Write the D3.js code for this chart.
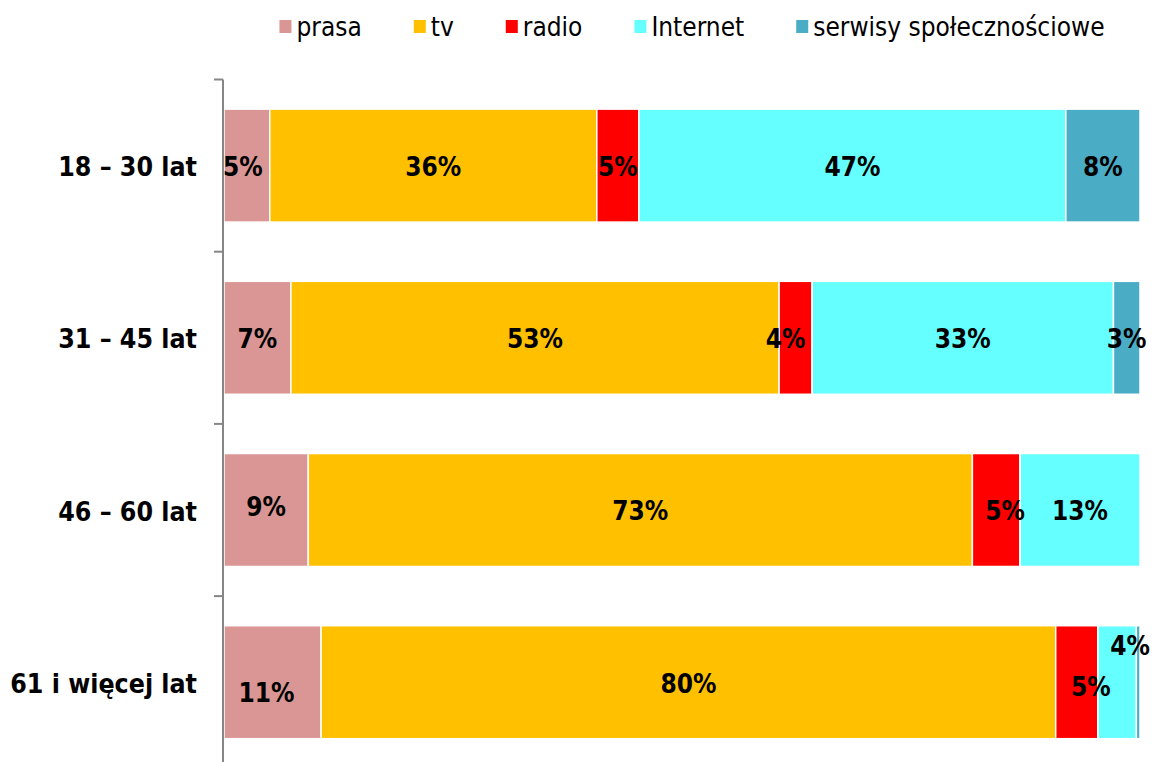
<!DOCTYPE html>
<html>
<head>
<meta charset="utf-8">
<script src="https://cdn.jsdelivr.net/npm/d3@7"></script>
<style>
  body { margin: 0; background: #fff; }
  svg { display: block; }
  .cat-label { font-family: "DejaVu Sans Condensed", "DejaVu Sans", sans-serif; font-stretch: condensed; font-weight: bold; font-size: 26.5px; fill: #000; }
  .val-label { font-family: "DejaVu Sans Condensed", "DejaVu Sans", sans-serif; font-stretch: condensed; font-weight: bold; font-size: 26px; fill: #000; }
  .legend-label { font-family: "DejaVu Sans Condensed", "DejaVu Sans", sans-serif; font-stretch: condensed; font-size: 26px; fill: #000; }
</style>
</head>
<body>
<div id="chart"></div>
<script>
// Age groups (rows, top to bottom)
const categories = ["18 – 30 lat", "31 – 45 lat", "46 – 60 lat", "61 i więcej lat"];

// Series, in stacking order
const seriesNames = ["prasa", "tv", "radio", "Internet", "serwisy społecznościowe"];
const seriesColors = ["#D99694", "#FFC000", "#FF0000", "#66FFFF", "#4BACC6"];

// Shares in percent
const prasa = [5.0, 7.3, 9.2, 10.6];
const tv = [35.7, 53.3, 72.5, 80.2];
const radio = [4.6, 3.6, 5.2, 4.6];
const internet = [46.6, 32.9, 13.1, 4.2];
const serwisy = [8.1, 2.9, 0, 0.4];

// a few data labels were moved by hand in the original
const labelNudge = {
  "0|prasa": { dx: -4, dy: 0 },
  "1|radio": { dx: -10, dy: 0 },
  "2|prasa": { dx: 0, dy: -4 },
  "2|radio": { dx: 9, dy: 0 },
  "3|prasa": { dx: -6, dy: 9 },
  "3|radio": { dx: 14, dy: 3 },
  "3|Internet": { dx: 13, dy: -38 },
};

const width = 1154;
const height = 762;

const rows = categories.map((c, i) => ({
  cat: c,
  idx: i,
  prasa: prasa[i],
  tv: tv[i],
  radio: radio[i],
  Internet: internet[i],
  "serwisy społecznościowe": serwisy[i],
}));

const svg = d3
  .select("#chart")
  .append("svg")
  .attr("width", width)
  .attr("height", height);

const x = d3.scaleLinear().domain([0, 100]).range([224, 1140]);

const y = d3
  .scaleBand()
  .domain(categories)
  .range([79.5, 79.5 + 4 * 172.2])
  .paddingInner(0.344)
  .paddingOuter(0.172);

const color = d3.scaleOrdinal().domain(seriesNames).range(seriesColors);

const stacked = d3.stack().keys(seriesNames)(rows);

// Bars
const layer = svg
  .append("g")
  .selectAll("g")
  .data(stacked)
  .enter()
  .append("g")
  .attr("fill", (d) => color(d.key));

layer
  .selectAll("rect")
  .data((d) => d)
  .enter()
  .append("rect")
  .attr("x", (d) => x(d[0]))
  .attr("y", (d) => y(d.data.cat))
  .attr("width", (d) => Math.max(0, x(d[1]) - x(d[0])))
  .attr("height", y.bandwidth())
  .attr("stroke", "#fff")
  .attr("stroke-width", 1.5);

// Value labels
stacked.forEach((s) => {
  s.forEach((d) => {
    const v = d[1] - d[0];
    if (v < 1) return;
    const nudge = labelNudge[d.data.idx + "|" + s.key] || { dx: 0, dy: 0 };
    svg
      .append("text")
      .attr("class", "val-label")
      .attr("text-anchor", "middle")
      .attr("x", (x(d[0]) + x(d[1])) / 2 + nudge.dx)
      .attr("y", y(d.data.cat) + y.bandwidth() / 2 + 1 + nudge.dy)
      .attr("dy", "0.36em")
      .text(Math.round(v) + "%");
  });
});

// Category axis: line + ticks at band boundaries
const axis = svg.append("g");
const step = y.step();
const y0 = y.range()[0];

axis
  .append("line")
  .attr("x1", 223)
  .attr("x2", 223)
  .attr("y1", y0)
  .attr("y2", y.range()[1])
  .attr("stroke", "#868686")
  .attr("stroke-width", 2);

axis
  .selectAll(".tick")
  .data(d3.range(categories.length + 1))
  .enter()
  .append("line")
  .attr("class", "tick")
  .attr("x1", 214)
  .attr("x2", 223)
  .attr("y1", (i) => y0 + i * step)
  .attr("y2", (i) => y0 + i * step)
  .attr("stroke", "#868686")
  .attr("stroke-width", 2);

axis
  .selectAll(".cat-label")
  .data(categories)
  .enter()
  .append("text")
  .attr("class", "cat-label")
  .attr("text-anchor", "end")
  .attr("x", 197)
  .attr("y", (d) => y(d) + y.bandwidth() / 2 + 1)
  .attr("dy", "0.36em")
  .text((d) => d);

// Legend, centred above the plot
const legend = svg.append("g").attr("class", "legend");
const items = legend
  .selectAll("g")
  .data(seriesNames)
  .enter()
  .append("g");

items
  .append("rect")
  .attr("width", 12)
  .attr("height", 13)
  .attr("y", 20)
  .attr("fill", (d) => color(d));

items
  .append("text")
  .attr("class", "legend-label")
  .attr("x", 17)
  .attr("y", 36)
  .text((d) => d);

let cursor = 0;
items.each(function () {
  const w = 17 + d3.select(this).select("text").node().getComputedTextLength();
  d3.select(this).attr("transform", `translate(${cursor},0)`);
  cursor += w + 52;
});
const legendWidth = cursor - 52;
legend.attr("transform", `translate(${692 - legendWidth / 2},0)`);
</script>
</body>
</html>
